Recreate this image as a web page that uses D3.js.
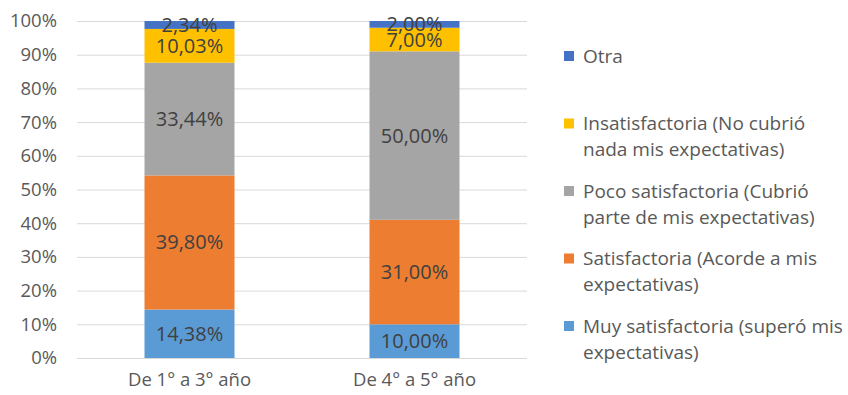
<!DOCTYPE html>
<html>
<head>
<meta charset="utf-8">
<script src="https://cdn.jsdelivr.net/npm/d3@7"></script>
<style>
  body { margin: 0; background: #fff; }
  svg { font-family: 'Open Sans', sans-serif; }
</style>
</head>
<body>
<svg width="848" height="395"></svg>
<script>
var categories = ['De 1° a 3° año', 'De 4° a 5° año']
var seriesNames = [
  'Muy satisfactoria (superó mis expectativas)',
  'Satisfactoria (Acorde a mis expectativas)',
  'Poco satisfactoria (Cubrió parte de mis expectativas)',
  'Insatisfactoria (No cubrió nada mis expectativas)',
  'Otra'
]
// legend text split in lines as in the original
var legendLines = [
  ['Muy satisfactoria (superó mis', 'expectativas)'],
  ['Satisfactoria (Acorde a mis', 'expectativas)'],
  ['Poco satisfactoria (Cubrió', 'parte de mis expectativas)'],
  ['Insatisfactoria (No cubrió', 'nada mis expectativas)'],
  ['Otra']
]
var muySatisfactoria = [14.38, 10.00]
var satisfactoria = [39.80, 31.00]
var pocoSatisfactoria = [33.44, 50.00]
var insatisfactoria = [10.03, 7.00]
var otra = [2.34, 2.00]
var yTicks = [0, 10, 20, 30, 40, 50, 60, 70, 80, 90, 100]

var colors = ['#5b9bd5', '#ed7d31', '#a5a5a5', '#ffc000', '#4472c4']
var seriesValues = [muySatisfactoria, satisfactoria, pocoSatisfactoria, insatisfactoria, otra]

var svg = d3.select('svg')
var plotLeft = 77
var plotRight = 527
var plotTop = 21
var plotBottom = 358

var x = d3.scaleBand()
    .domain(categories)
    .range([plotLeft, plotRight])
    .paddingInner(0.6)
    .paddingOuter(0.3)

var y = d3.scaleLinear()
    .domain([0, 100])
    .range([plotBottom, plotTop])

// gridlines
svg.append('g')
    .attr('transform', 'translate(' + plotLeft + ',0)')
    .call(d3.axisLeft(y).tickValues(yTicks).tickSize(-(plotRight - plotLeft)).tickFormat(''))
    .call(g => g.select('.domain').remove())
    .call(g => g.selectAll('line').attr('stroke', '#d9d9d9').attr('stroke-width', 1))

// y labels
svg.append('g')
    .attr('transform', 'translate(' + plotLeft + ',0)')
    .call(d3.axisLeft(y).tickValues(yTicks).tickSize(0).tickPadding(20).tickFormat(d => d + '%'))
    .call(g => g.select('.domain').remove())
    .call(g => g.selectAll('text').attr('fill', '#595959').style('font-size', '18.5px').style('font-family', "'Open Sans', sans-serif"))

// x labels
svg.append('g')
    .attr('transform', 'translate(0,' + plotBottom + ')')
    .call(d3.axisBottom(x).tickSize(0).tickPadding(15))
    .call(g => g.select('.domain').remove())
    .call(g => g.selectAll('text').attr('fill', '#595959').style('font-size', '18.5px').style('font-family', "'Open Sans', sans-serif"))

// stack the data
var rows = categories.map(function (c, i) {
  var r = { cat: c }
  seriesNames.forEach(function (s, j) { r[s] = seriesValues[j][i] })
  return r
})
var stacked = d3.stack().keys(seriesNames)(rows)

var layers = svg.append('g').selectAll('g')
    .data(stacked)
    .enter().append('g')
      .attr('fill', (d, i) => colors[i])

layers.selectAll('rect')
    .data(d => d)
    .enter().append('rect')
      .attr('x', d => x(d.data.cat))
      .attr('width', x.bandwidth())
      .attr('y', d => y(d[1]))
      .attr('height', d => y(d[0]) - y(d[1]))

// data labels
var labels = svg.append('g')
stacked.forEach(function (layer) {
  layer.forEach(function (d) {
    var v = d[1] - d[0]
    labels.append('text')
        .attr('x', x(d.data.cat) + x.bandwidth() / 2)
        .attr('y', y((d[0] + d[1]) / 2))
        .attr('dy', '0.35em')
        .attr('text-anchor', 'middle')
        .attr('fill', '#404040')
        .style('font-size', '20px')
        .text(v.toFixed(2).replace('.', ',') + '%')
  })
})

// legend, top to bottom: Otra first
var legendY = d3.scaleLinear().domain([4, 0]).range([56, 326])
var legend = svg.append('g')
seriesNames.forEach(function (s, i) {
  var gy = legendY(i)
  var g = legend.append('g')
  g.append('rect')
      .attr('x', 564)
      .attr('y', gy - 5)
      .attr('width', 10)
      .attr('height', 10)
      .attr('fill', colors[i])
  legendLines[i].forEach(function (line, k) {
    g.append('text')
        .attr('x', 583)
        .attr('y', gy + k * 26)
        .attr('dy', '0.35em')
        .attr('fill', '#595959')
        .style('font-size', '19px')
        .text(line)
  })
})
</script>
</body>
</html>
